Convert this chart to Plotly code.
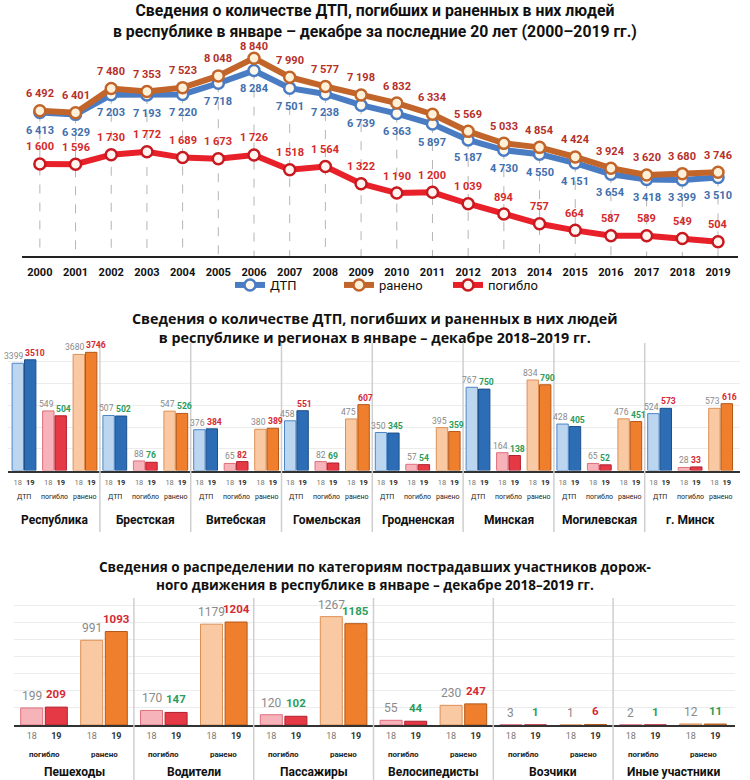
import plotly.graph_objects as go

# ---------------- Panel 1 data ----------------
years = list(range(2000, 2020))
dtp = [6413, 6329, 7203, 7193, 7220, 7718, 8284, 7501, 7238, 6739,
       6363, 5897, 5187, 4730, 4550, 4151, 3654, 3418, 3399, 3510]
injured = [6492, 6401, 7480, 7353, 7523, 8048, 8840, 7990, 7577, 7198,
           6832, 6334, 5569, 5033, 4854, 4424, 3924, 3620, 3680, 3746]
killed = [1600, 1596, 1730, 1772, 1689, 1673, 1726, 1518, 1564, 1322,
          1190, 1200, 1039, 894, 757, 664, 587, 589, 549, 504]

# ---------------- Panel 2 data ----------------
regions = ["Республика", "Брестская", "Витебская", "Гомельская",
           "Гродненская", "Минская", "Могилевская", "г. Минск"]
reg_dtp_18 = [3399, 507, 376, 458, 350, 767, 428, 524]
reg_dtp_19 = [3510, 502, 384, 551, 345, 750, 405, 573]
reg_killed_18 = [549, 88, 65, 82, 57, 164, 65, 28]
reg_killed_19 = [504, 76, 82, 69, 54, 138, 52, 33]
reg_injured_18 = [3680, 547, 380, 475, 395, 834, 476, 573]
reg_injured_19 = [3746, 526, 389, 607, 359, 790, 451, 616]
reg_groups = ["ДТП", "погибло", "ранено"]
year_ticks = ["18", "19"]

# ---------------- Panel 3 data ----------------
categories = ["Пешеходы", "Водители", "Пассажиры", "Велосипедисты",
              "Возчики", "Иные участники"]
cat_killed_18 = [199, 170, 120, 55, 3, 2]
cat_killed_19 = [209, 147, 102, 44, 1, 1]
cat_injured_18 = [991, 1179, 1267, 230, 1, 12]
cat_injured_19 = [1093, 1204, 1185, 247, 6, 11]
cat_groups = ["погибло", "ранено"]

W, H = 750, 780
NARROW = "Roboto, Liberation Sans, sans-serif"
WIDE = "Open Sans, DejaVu Sans, sans-serif"
RED_TXT = "#d42a33"
GREEN_TXT = "#2a9d5c"
GRAY_TXT = "#8a8a8a"

P1_TOP, P1_BOT = 45, 256
P2_TOP, P2_BOT = 343, 470.5
P3_TOP, P3_BOT = 598, 725
Y1_MAX = 9428
Y5_MIN, Y5_MAX = 303, 3275


def py(p):
    return 1 - p / H


def fmt_sp(v):
    return f"{v:,}".replace(",", " ")


fig = go.Figure()
ann = []
shapes = []

# ================= Panel 1: lines =================
C_DTP, C_INJ, C_KIL = "#4a7cc4", "#c2652a", "#e8202a"

gx, gy = [], []
for yr, v in zip(years, dtp):
    gx += [yr, yr, None]
    gy += [v, 0, None]
fig.add_trace(go.Scatter(x=gx, y=gy, mode="lines", showlegend=False,
                         line=dict(color="#b5b5b5", width=1, dash="dash"),
                         hoverinfo="skip", xaxis="x", yaxis="y"))

fig.add_trace(go.Scatter(
    x=years, y=dtp, name="ДТП", mode="lines+markers",
    line=dict(color=C_DTP, width=6),
    marker=dict(size=11, color="#fff8ec", line=dict(color=C_DTP, width=2.5)),
    xaxis="x", yaxis="y"))
fig.add_trace(go.Scatter(
    x=years, y=injured, name="ранено", mode="lines+markers",
    line=dict(color=C_INJ, width=6),
    marker=dict(size=11, color="#fff0d8", line=dict(color=C_INJ, width=2.5)),
    xaxis="x", yaxis="y"))
fig.add_trace(go.Scatter(
    x=years, y=killed, name="погибло", mode="lines+markers",
    line=dict(color=C_KIL, width=6),
    marker=dict(size=11, color="#fff4f0", line=dict(color="#c81820", width=2.5)),
    xaxis="x", yaxis="y5"))

p1_h = P1_BOT - P1_TOP
for yr, v in zip(years, dtp):
    ann.append(dict(x=yr, y=v, xref="x", yref="y", text=f"<b>{fmt_sp(v)}</b>",
                    xanchor="center", yanchor="middle", yshift=-18, showarrow=False,
                    font=dict(family=NARROW, size=11, color="#3f6fae")))
for yr, v in zip(years, injured):
    mpx = P1_BOT - v / Y1_MAX * p1_h
    ann.append(dict(x=yr, y=v, xref="x", yref="y", text=f"<b>{fmt_sp(v)}</b>",
                    xanchor="center", yanchor="middle", yshift=min(17, mpx - 46),
                    showarrow=False, font=dict(family=NARROW, size=11, color="#b5302a")))
for yr, v in zip(years, killed):
    ann.append(dict(x=yr, y=v, xref="x", yref="y5", text=f"<b>{fmt_sp(v)}</b>",
                    xanchor="center", yanchor="middle", yshift=17, showarrow=False,
                    font=dict(family=NARROW, size=11, color="#d42a2a")))

# ================= Panel 2: regions bars =================
REG_C0, REG_P = 54.5, 90.8
GRP_OFF2, BAR_OFF2, BAR_W2 = 30.5, 6.2, 11.4
reg_series = [(reg_dtp_18, reg_dtp_19), (reg_killed_18, reg_killed_19),
              (reg_injured_18, reg_injured_19)]
fills = {(0, 0): ("#bdd6f0", "#4a86c8"), (0, 1): ("#2d6db5", "#1d4f8c"),
         (1, 0): ("#f6b3ba", "#df6f7c"), (1, 1): ("#e53a45", "#b0202e"),
         (2, 0): ("#f8c9a2", "#de8f55"), (2, 1): ("#ef7f2c", "#b35818")}

tickvals2, ticktext2 = [], []
for g, (s18, s19) in enumerate(reg_series):
    for k, ser in enumerate((s18, s19)):
        xs_main, ys_main, xs_rep, ys_rep = [], [], [], []
        for i, v in enumerate(ser):
            xc = REG_C0 + REG_P * i + (g - 1) * GRP_OFF2 + (k - 0.5) * 2 * BAR_OFF2
            tickvals2.append(xc)
            ticktext2.append(year_ticks[k] if k == 0 else
                             f"<b><span style='color:#333'>{year_ticks[k]}</span></b>")
            if i == 0 and g != 1:
                xs_rep.append(xc); ys_rep.append(v)
            else:
                xs_main.append(xc); ys_main.append(v)
        fc, lc = fills[(g, k)]
        fig.add_trace(go.Bar(x=xs_main, y=ys_main, width=BAR_W2, showlegend=False,
                             marker=dict(color=fc, line=dict(color=lc, width=1)),
                             xaxis="x2", yaxis="y2"))
        if xs_rep:
            fig.add_trace(go.Bar(x=xs_rep, y=ys_rep, width=BAR_W2, showlegend=False,
                                 marker=dict(color=fc, line=dict(color=lc, width=1)),
                                 xaxis="x2", yaxis="y3"))
    for i in range(len(regions)):
        pc = REG_C0 + REG_P * i + (g - 1) * GRP_OFF2
        yref = "y3" if (i == 0 and g != 1) else "y2"
        v18, v19 = s18[i], s19[i]
        ann.append(dict(x=pc, y=v18, xref="x2", yref=yref, text=str(v18),
                        xanchor="right", yanchor="bottom", yshift=1, borderpad=0,
                        showarrow=False,
                        font=dict(family=NARROW, size=8.6, color=GRAY_TXT)))
        ann.append(dict(x=pc, y=v19, xref="x2", yref=yref, text=f"<b>{v19}</b>",
                        xanchor="left", yanchor="bottom", yshift=1, borderpad=0,
                        showarrow=False,
                        font=dict(family=NARROW, size=8.6,
                                  color=RED_TXT if v19 > v18 else GREEN_TXT)))
        ann.append(dict(x=pc, y=py(497), xref="x2", yref="paper", text=reg_groups[g],
                        xanchor="center", yanchor="middle", showarrow=False,
                        font=dict(family=NARROW, size=7, color="#222")))

for i, r in enumerate(regions):
    xc = REG_C0 + REG_P * i
    ann.append(dict(x=xc, y=py(520), xref="x2", yref="paper", text=f"<b>{r}</b>",
                    xanchor="center", yanchor="middle", showarrow=False,
                    font=dict(family=NARROW, size=12, color="#111")))
    if i < len(regions) - 1:
        xs = REG_C0 + REG_P * (i + 0.5)
        shapes.append(dict(type="line", xref="x2", yref="paper", x0=xs, x1=xs,
                           y0=py(343), y1=py(532), line=dict(color="#cfcfcf", width=1.5)))

# ================= Panel 3: categories bars =================
CAT_C0, CAT_P = 74, 119.8
GRP_OFF3, BAR_OFF3, BAR_W3 = 30, 12.3, 22
cat_series = [(cat_killed_18, cat_killed_19), (cat_injured_18, cat_injured_19)]
tickvals3, ticktext3 = [], []
for g, (s18, s19) in enumerate(cat_series):
    for k, ser in enumerate((s18, s19)):
        xs = []
        for i, v in enumerate(ser):
            xc = CAT_C0 + CAT_P * i + (g - 0.5) * 2 * GRP_OFF3 + (k - 0.5) * 2 * BAR_OFF3
            xs.append(xc)
            tickvals3.append(xc)
            ticktext3.append(year_ticks[k] if k == 0 else
                             f"<b><span style='color:#333'>{year_ticks[k]}</span></b>")
            if k == 0:
                ann.append(dict(x=xc, y=v, xref="x4", yref="y4", text=str(v),
                                xanchor="center", yanchor="bottom", yshift=3, showarrow=False,
                                font=dict(family=NARROW, size=12, color=GRAY_TXT)))
            else:
                ann.append(dict(x=xc, y=v, xref="x4", yref="y4", text=f"<b>{v}</b>",
                                xanchor="center", yanchor="bottom", yshift=4, showarrow=False,
                                font=dict(family=NARROW, size=11.5,
                                          color=RED_TXT if v > s18[i] else GREEN_TXT)))
        fc, lc = fills[(g + 1, k)]
        fig.add_trace(go.Bar(x=xs, y=ser, width=BAR_W3, showlegend=False,
                             marker=dict(color=fc, line=dict(color=lc, width=1)),
                             xaxis="x4", yaxis="y4"))
    for i in range(len(categories)):
        pc = CAT_C0 + CAT_P * i + (g - 0.5) * 2 * GRP_OFF3
        ann.append(dict(x=pc, y=py(754), xref="x4", yref="paper", text=f"<b>{cat_groups[g]}</b>",
                        xanchor="center", yanchor="middle", showarrow=False,
                        font=dict(family=NARROW, size=8, color="#222")))

for i, c in enumerate(categories):
    xc = CAT_C0 + CAT_P * i
    ann.append(dict(x=xc, y=py(772), xref="x4", yref="paper", text=f"<b>{c}</b>",
                    xanchor="center", yanchor="middle", showarrow=False,
                    font=dict(family=NARROW, size=12, color="#111")))
    if i < len(categories) - 1:
        xs = CAT_C0 + CAT_P * (i + 0.5)
        shapes.append(dict(type="line", xref="x4", yref="paper", x0=xs, x1=xs,
                           y0=py(598), y1=py(782), line=dict(color="#cfcfcf", width=1.5)))

# ================= Titles =================
ann.append(dict(x=0.5, y=py(21), xref="paper", yref="paper", showarrow=False,
                xanchor="center", yanchor="middle",
                text="<b>Сведения о количестве ДТП, погибших и раненных в них людей<br>"
                     "в республике в январе – декабре за последние 20 лет (2000–2019 гг.)</b>",
                font=dict(family=NARROW, size=15.8, color="#111")))
ann.append(dict(x=0.5, y=py(328), xref="paper", yref="paper", showarrow=False,
                xanchor="center", yanchor="middle",
                text="<b>Сведения о количестве ДТП, погибших и раненных в них людей<br>"
                     "в республике и регионах в январе – декабре 2018–2019 гг.</b>",
                font=dict(family=WIDE, size=14.3, color="#111")))
ann.append(dict(x=0.5, y=py(576), xref="paper", yref="paper", showarrow=False,
                xanchor="center", yanchor="middle",
                text="<b>Сведения о распределении по категориям пострадавших участников дорож-<br>"
                     "ного движения в республике в январе – декабре 2018–2019 гг.</b>",
                font=dict(family=WIDE, size=13.5, color="#111")))

# ================= Layout =================
reg_top = 1175
rep_top = reg_top * 3.44

fig.update_layout(
    width=W, height=H, margin=dict(l=0, r=0, t=0, b=0),
    paper_bgcolor="white", plot_bgcolor="white", barmode="overlay",
    font=dict(family=NARROW),
    showlegend=True,
    legend=dict(orientation="h", x=230 / W, xanchor="left", y=py(270), yanchor="top",
                font=dict(family=NARROW, size=13, color="#111"),
                bgcolor="rgba(0,0,0,0)", itemwidth=30, entrywidth=64,
                entrywidthmode="pixels", tracegroupgap=0),
    xaxis=dict(domain=[22 / W, 738 / W], range=[1999.5, 2019.56], anchor="y",
               tickvals=years, ticktext=[f"<b>{y}</b>" for y in years],
               tickfont=dict(family=NARROW, size=11, color="#111"),
               showline=True, linecolor="#222", linewidth=2, showgrid=False,
               zeroline=False, ticks="", ticklabelstandoff=5),
    yaxis=dict(domain=[py(P1_BOT), py(P1_TOP)], range=[0, Y1_MAX], visible=False,
               showgrid=False, zeroline=False),
    yaxis5=dict(domain=[py(P1_BOT), py(P1_TOP)], range=[Y5_MIN, Y5_MAX], overlaying="y",
                visible=False, showgrid=False, zeroline=False, anchor="x"),
    xaxis2=dict(domain=[8 / W, 740 / W], range=[8, 740], anchor="y2",
                tickvals=tickvals2, ticktext=ticktext2,
                tickfont=dict(family=NARROW, size=7.5, color="#777"),
                showline=True, linecolor="#333", linewidth=2, showgrid=False,
                zeroline=False, ticks="", ticklabelstandoff=3),
    yaxis2=dict(domain=[py(P2_BOT), py(P2_TOP)], range=[0, reg_top], dtick=200,
                showgrid=True, gridcolor="#ececec", gridwidth=1,
                showticklabels=False, zeroline=False, anchor="x2"),
    yaxis3=dict(domain=[py(P2_BOT), py(P2_TOP)], range=[0, rep_top], overlaying="y2",
                visible=False, showgrid=False, zeroline=False, anchor="x2"),
    xaxis4=dict(domain=[14 / W, 735 / W], range=[14, 735], anchor="y4",
                tickvals=tickvals3, ticktext=ticktext3,
                tickfont=dict(family=NARROW, size=9, color="#777"),
                showline=True, linecolor="#333", linewidth=2, showgrid=False,
                zeroline=False, ticks="", ticklabelstandoff=1),
    yaxis4=dict(domain=[py(P3_BOT), py(P3_TOP)], range=[0, 1485], dtick=200,
                showgrid=True, gridcolor="#ececec", gridwidth=1,
                showticklabels=False, zeroline=False, anchor="x4"),
    annotations=ann, shapes=shapes,
)

fig.write_html("out.html", config={"displayModeBar": False},
               post_script="document.body.style.margin='0';document.body.style.overflow='hidden';")
